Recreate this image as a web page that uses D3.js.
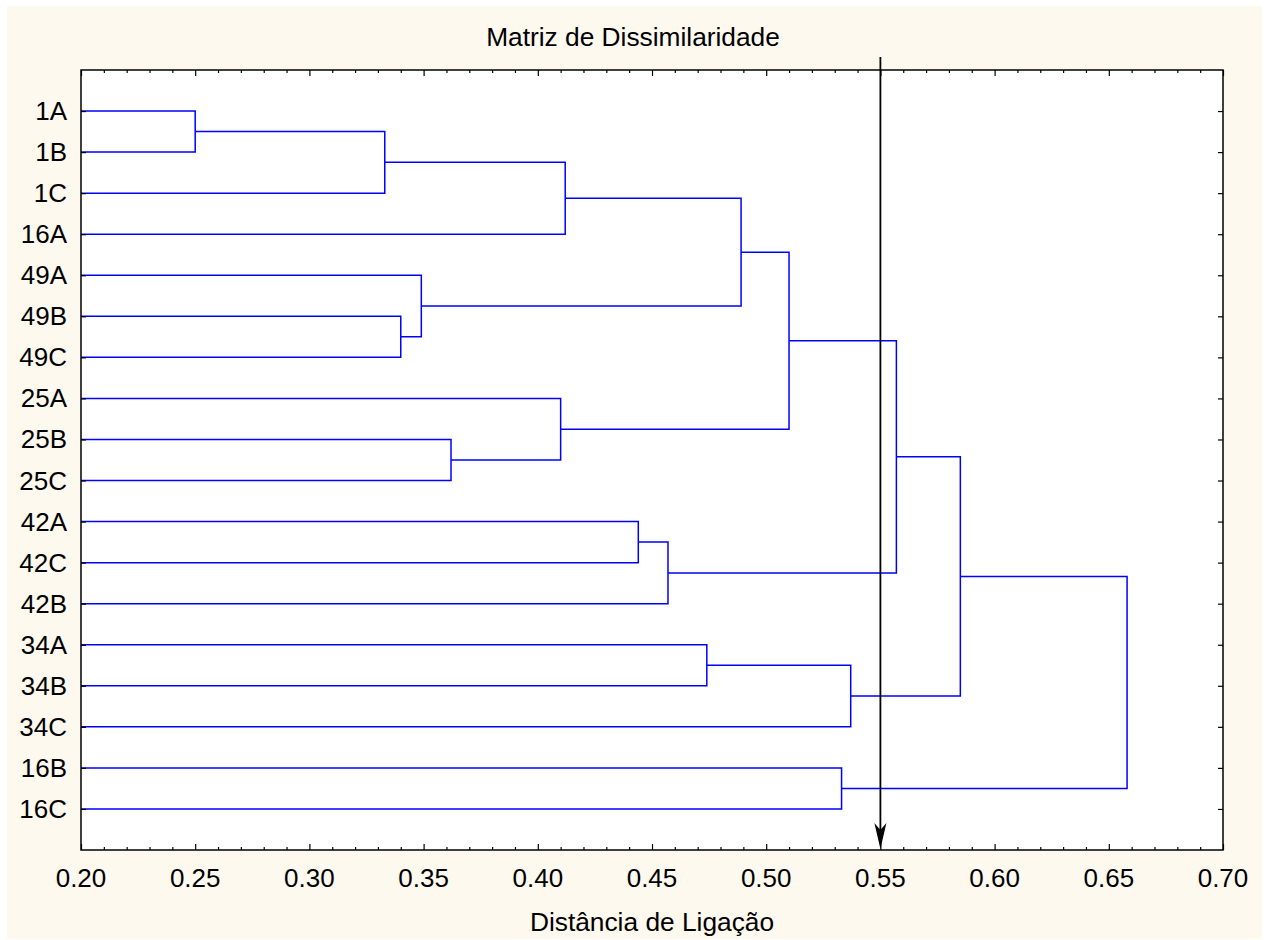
<!DOCTYPE html>
<html>
<head>
<meta charset="utf-8">
<script src="https://cdn.jsdelivr.net/npm/d3@7"></script>
<style>
  html, body { margin: 0; padding: 0; background: #ffffff; }
  svg { display: block; }
  text { font-family: "Liberation Sans", Arial, Helvetica, sans-serif; fill: #000; }
</style>
</head>
<body>
<svg id="chart" width="1269" height="940"></svg>
<script>
// ---- data ----
const title = "Matriz de Dissimilaridade";
const xTitle = "Distância de Ligação";
const leafLabels = ["1A","1B","1C","16A","49A","49B","49C","25A","25B","25C","42A","42C","42B","34A","34B","34C","16B","16C"];
// merges (node ids: leaves 0..17, merge k -> 18+k)
const mergeLeft   = [0, 18, 19, 5, 4, 20, 8, 7, 23, 10, 27, 26, 13, 30, 29, 16, 32];
const mergeRight  = [1, 2, 3, 6, 21, 22, 9, 24, 25, 11, 12, 28, 14, 15, 31, 17, 33];
const mergeHeight = [0.250, 0.333, 0.412, 0.340, 0.349, 0.489, 0.362, 0.410, 0.510, 0.444, 0.457, 0.557, 0.474, 0.537, 0.585, 0.533, 0.658];
const xTicks = [0.20, 0.25, 0.30, 0.35, 0.40, 0.45, 0.50, 0.55, 0.60, 0.65, 0.70];
const cutDistance = 0.55;

// ---- layout ----
const svg = d3.select("#chart");
const pL = 81, pR = 1223, pT = 70, pB = 850;
const x = d3.scaleLinear().domain([0.2, 0.7]).range([pL, pR]);
const y = d3.scaleLinear().domain([-1, leafLabels.length]).range([pT, pB]);

svg.append("rect").attr("x", 7).attr("y", 6).attr("width", 1255).attr("height", 933).attr("fill", "#fdf9ef");
svg.append("rect").attr("x", pL).attr("y", pT).attr("width", pR - pL).attr("height", pB - pT).attr("fill", "#ffffff");

svg.append("defs").append("clipPath").attr("id", "plotclip")
  .append("rect").attr("x", pL).attr("y", pT).attr("width", pR - pL).attr("height", pB - pT);

// node positions
const nodes = leafLabels.map((l, i) => ({ h: 0, pos: i }));
mergeHeight.forEach((h, k) => {
  const a = nodes[mergeLeft[k]], b = nodes[mergeRight[k]];
  nodes.push({ h: h, pos: (a.pos + b.pos) / 2, a: a, b: b });
});

const g = svg.append("g").attr("clip-path", "url(#plotclip)");
const links = nodes.filter(n => n.a);
g.selectAll("path.link").data(links).enter().append("path")
  .attr("class", "link")
  .attr("fill", "none")
  .attr("stroke", "#0000ff")
  .attr("stroke-width", 1.5)
  .attr("d", n => {
    const xa = Math.max(x(n.a.h), pL - 2), xb = Math.max(x(n.b.h), pL - 2);
    return `M${xa},${y(n.a.pos)}H${x(n.h)}V${y(n.b.pos)}H${xb}`;
  });

// axes
const minorTicks = d3.range(20, 71).map(v => v / 100).filter(v => Math.round(v * 100) % 5 !== 0);
const bottomAxis = d3.axisTop(x).tickValues(xTicks).tickSize(6).tickFormat("");
const bottomMinor = d3.axisTop(x).tickValues(minorTicks).tickSize(3).tickFormat("");
const topAxis = d3.axisBottom(x).tickValues(xTicks).tickSize(6).tickFormat("");
const topMinor = d3.axisBottom(x).tickValues(minorTicks).tickSize(3).tickFormat("");
const leafIdx = d3.range(leafLabels.length);
const leftAxis = d3.axisRight(y).tickValues(leafIdx).tickSize(5).tickFormat("");
const rightAxis = d3.axisLeft(y).tickValues(leafIdx).tickSize(5).tickFormat("");

function styleAxis(sel) {
  sel.select(".domain").remove();
  sel.selectAll(".tick line").attr("stroke", "#000").attr("stroke-width", 1.2);
}
svg.append("g").attr("transform", `translate(0,${pB})`).call(bottomAxis).call(styleAxis);
svg.append("g").attr("transform", `translate(0,${pB})`).call(bottomMinor).call(styleAxis);
svg.append("g").attr("transform", `translate(0,${pT})`).call(topAxis).call(styleAxis);
svg.append("g").attr("transform", `translate(0,${pT})`).call(topMinor).call(styleAxis);
svg.append("g").attr("transform", `translate(${pL},0)`).call(leftAxis).call(styleAxis);
svg.append("g").attr("transform", `translate(${pR},0)`).call(rightAxis).call(styleAxis);

// frame
svg.append("rect").attr("x", pL).attr("y", pT).attr("width", pR - pL).attr("height", pB - pT)
  .attr("fill", "none").attr("stroke", "#000").attr("stroke-width", 1.5);

// tick labels
svg.append("g").selectAll("text").data(xTicks).enter().append("text")
  .attr("x", d => x(d)).attr("y", 887)
  .attr("text-anchor", "middle").attr("font-size", 26)
  .text(d => d3.format(".2f")(d));

svg.append("g").selectAll("text").data(leafLabels).enter().append("text")
  .attr("x", pL - 14).attr("y", (d, i) => y(i) + 9)
  .attr("text-anchor", "end").attr("font-size", 26)
  .text(d => d);

// titles
svg.append("text").attr("x", 633).attr("y", 46).attr("text-anchor", "middle").attr("font-size", 26.3).text(title);
svg.append("text").attr("x", 652).attr("y", 931).attr("text-anchor", "middle").attr("font-size", 26.3).text(xTitle);

// cut arrow
const cx = x(cutDistance);
svg.append("line").attr("x1", cx).attr("x2", cx).attr("y1", 57).attr("y2", 830)
  .attr("stroke", "#000").attr("stroke-width", 1.8);
svg.append("path")
  .attr("d", `M${cx},${pB - 1} L${cx - 6},${pB - 27} L${cx},${pB - 20} L${cx + 6},${pB - 27} Z`)
  .attr("fill", "#000");
</script>
</body>
</html>
